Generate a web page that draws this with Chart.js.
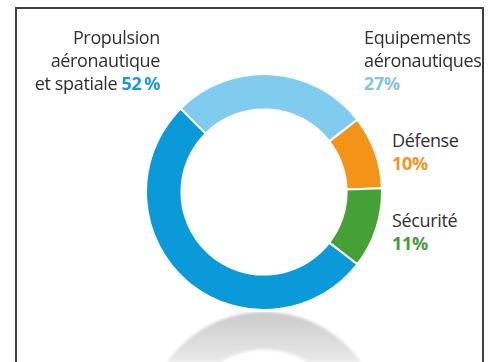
<!DOCTYPE html>
<html lang="fr">
<head>
<meta charset="utf-8">
<script src="https://cdn.jsdelivr.net/npm/chart.js@4.4.1/dist/chart.umd.min.js"></script>
<style>
  html, body { margin: 0; padding: 0; background: #fff; }
  body { width: 488px; height: 362px; position: relative; overflow: hidden; font-family: "Open Sans", Lato, sans-serif; }
  .frame { position: absolute; left: 15px; top: 7px; width: 469px; height: 400px; border: 2px solid #3f3f3f; box-sizing: border-box; }
  .chart-box { position: absolute; left: 145px; top: 73px; width: 238px; height: 238px; }
  .reflection { position: absolute; left: 0; top: 312px; width: 488px; height: 50px; overflow: hidden;
    -webkit-mask-image: linear-gradient(to bottom, rgba(0,0,0,0.75), rgba(0,0,0,0.3));
    mask-image: linear-gradient(to bottom, rgba(0,0,0,0.75), rgba(0,0,0,0.3)); filter: blur(1.5px); }
  .reflection .chart-box { top: 0; transform: scaleY(-1); }
  .label { position: absolute; font-size: 18px; line-height: 23px; color: #303030; white-space: nowrap; letter-spacing: -0.35px; }
  .label b { font-weight: 700; }
  .left { right: 328px; text-align: right; }
</style>
</head>
<body>
<div class="frame"></div>

<div class="chart-box"><canvas id="donut"></canvas></div>
<div class="reflection"><div class="chart-box"><canvas id="reflet"></canvas></div></div>

<div class="label left" style="top:26px">Propulsion<br>aéronautique<br>et spatiale <b id="pct0"></b></div>
<div class="label" style="left:364px;top:26px">Equipements<br>aéronautiques<br><b id="pct1"></b></div>
<div class="label" style="left:392px;top:129px">Défense<br><b id="pct2"></b></div>
<div class="label" style="left:392px;top:209px">Sécurité<br><b id="pct3"></b></div>

<script>
// Répartition du chiffre d'affaires par activité (en %)
const categories = ["Propulsion aéronautique et spatiale", "Equipements aéronautiques", "Défense", "Sécurité"];
const parts = [52, 27, 10, 11];
const couleurs = ["#0a9ad9", "#7fccef", "#f39419", "#45a035"];
const couleursTexte = ["#1b9ad6", "#84c4e2", "#f0951f", "#4a9b3a"];

// ordre de tracé : on démarre par les équipements, sens horaire
const ordre = [1, 2, 3, 0];
const labelsTraces = ordre.map((i) => categories[i]);
const valeursTracees = ordre.map((i) => parts[i]);
const couleursTracees = ordre.map((i) => couleurs[i]);

parts.forEach((value, i) => {
  const el = document.querySelector(`#pct${i}`);
  el.textContent = i === 0 ? `${value}\u2009%` : `${value}%`;
  el.style.color = couleursTexte[i];
});

const baseOptions = {
  responsive: true,
  maintainAspectRatio: false,
  animation: false,
  rotation: -45,
  cutout: "70%",
  layout: { padding: 0 },
  plugins: { legend: { display: false }, tooltip: { enabled: false } },
  events: []
};

new Chart(document.querySelector("#donut"), {
  type: "doughnut",
  data: {
    labels: labelsTraces,
    datasets: [{
      data: valeursTracees,
      backgroundColor: couleursTracees,
      borderColor: "#ffffff",
      borderWidth: 2,
      hoverOffset: 0
    }]
  },
  options: baseOptions
});

// reflet grisé sous l'anneau
new Chart(document.querySelector("#reflet"), {
  type: "doughnut",
  data: {
    labels: labelsTraces,
    datasets: [{
      data: valeursTracees,
      backgroundColor: "#b8b8b8",
      borderColor: "#b8b8b8",
      borderWidth: 2,
      hoverOffset: 0
    }]
  },
  options: baseOptions
});
</script>
</body>
</html>
